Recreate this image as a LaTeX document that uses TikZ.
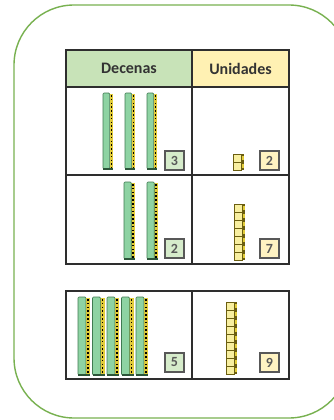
\documentclass[tikz,border=0pt]{standalone}
\usepackage{fontspec}
\setmainfont{Carlito}
\definecolor{framegreen}{HTML}{78B150}
\definecolor{headgreen}{HTML}{C8E3B8}
\definecolor{headyellow}{HTML}{FFF1B3}
\definecolor{rodgreen}{HTML}{8ED3A3}
\definecolor{rodedge}{HTML}{3F7A52}
\definecolor{rodyellow}{HTML}{E2CC3A}
\definecolor{unityellow}{HTML}{F8EFA0}
\definecolor{unitedge}{HTML}{6B5E10}
\definecolor{badgegreen}{HTML}{D6ECCB}
\definecolor{badgeyellow}{HTML}{FFF3C2}
\definecolor{linegray}{HTML}{2E2E2E}
\tikzset{
  tline/.style={draw=linegray, line width=1.1pt},
  thick bottom/.style={draw=linegray, line width=2.4pt},
  headtext/.style={font=\fontsize{16}{18}\selectfont\bfseries, text=black!80},
  badge/.style={draw=linegray!80, line width=1.1pt, minimum width=19pt, minimum height=19pt, inner sep=0pt, font=\fontsize{14}{14}\selectfont\bfseries, text=black!65},
}
\newcommand\tenrod[4]{% x, top, bottom, width
  \fill[rodyellow] ({#1+0.66*#4},{#2+1}) rectangle ({#1+#4},#3);
  \draw[black, line width=1.4pt, dash pattern=on 1.6pt off 2.2pt] ({#1+0.83*#4},{#2+2}) -- ({#1+0.83*#4},{#3-1});
  \filldraw[fill=rodgreen, draw=rodedge, line width=0.6pt, rounded corners=1pt] (#1,#2) rectangle ({#1+0.66*#4},#3);
  \draw[rodedge!70!black, line width=1.2pt] (#1,#3) -- ({#1+#4},#3);
}
\newcommand\unitcol[3]{% x, bottom, n
  \fill[unitedge] ({#1+8},{#2-8*#3}) rectangle ({#1+11},#2);
  \foreach \k in {1,...,#3}{
    \filldraw[fill=unityellow, draw=unitedge, line width=0.6pt] (#1,{#2-8*\k+0.5}) rectangle ({#1+8},{#2-8*\k+8});
    \fill[rodyellow] ({#1+8.5},{#2-8*\k+2}) rectangle ({#1+10.5},{#2-8*\k+6});
  }
}
\begin{document}
\begin{tikzpicture}[x=1pt,y=-1pt]
\useasboundingbox (0,0) rectangle (334,420);
\fill[white] (0,0) rectangle (334,420);
% frame
\draw[framegreen, line width=1.4pt, rounded corners=60pt] (14,5) rectangle (349,418);
% table 1 header
\fill[headgreen] (66,50) rectangle (192,87);
\fill[headyellow] (192,50) rectangle (289,87);
\node[headtext] (dec) at (129,68.5) {Decenas};
\node[headtext] (uni) at (240.5,68.5) {Unidades};
% table 1 lines
\draw[tline] (66,50) rectangle (289,264);
\draw[tline] (66,87) -- (289,87);
\draw[tline] (66,175) -- (289,175);
\draw[tline] (192,50) -- (192,264);
\draw[thick bottom] (65,264) -- (290,264);
% row 1
\tenrod{103}{93}{169}{10}
\tenrod{125}{93}{169}{10}
\tenrod{147}{93}{169}{10}
\unitcol{233}{170}{2}
\node[badge, fill=badgegreen] (b1) at (174.5,160.5) {3};
\node[badge, fill=badgeyellow] (b2) at (269.5,160.5) {2};
% row 2
\tenrod{124}{182}{259}{11}
\tenrod{147}{182}{259}{11}
\unitcol{234}{260}{7}
\node[badge, fill=badgegreen] (b3) at (174.5,248.5) {2};
\node[badge, fill=badgeyellow] (b4) at (269.5,248.5) {7};
% table 2
\draw[tline] (66,291) rectangle (289,379);
\draw[tline] (192,291) -- (192,379);
\foreach \xx in {78,92.5,107,121.5,136}{\tenrod{\xx}{297}{375}{12}}
\unitcol{226}{374}{9}
\node[badge, fill=badgegreen] (b5) at (174.5,362.5) {5};
\node[badge, fill=badgeyellow] (b6) at (269.5,362.5) {9};
\end{tikzpicture}
\end{document}
